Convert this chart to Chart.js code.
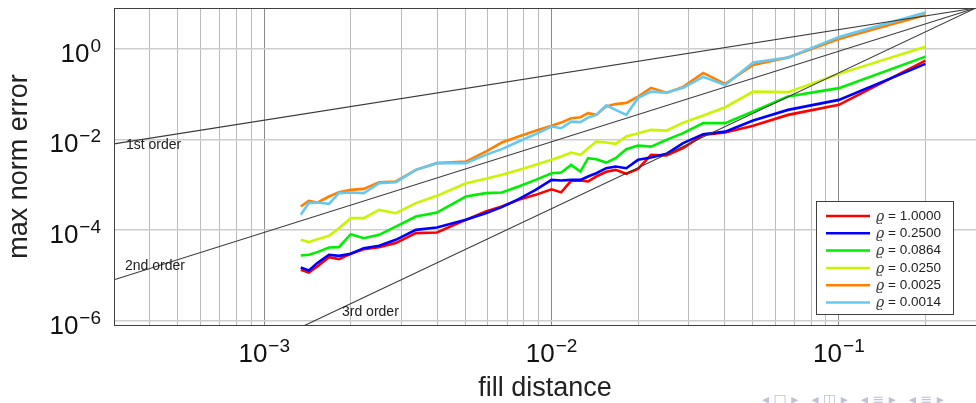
<!DOCTYPE html>
<html>
<head>
<meta charset="utf-8">
<script src="https://cdn.jsdelivr.net/npm/chart.js@4"></script>
<style>
  html, body { margin: 0; padding: 0; background: #fff; }
  #wrap { width: 976px; height: 403px; }
</style>
</head>
<body>
<div id="wrap"><canvas id="chart" width="976" height="403"></canvas></div>
<script>
// fill distance (shared by all runs)
const fillDistance = [1.34e-3, 1.43e-3, 1.53e-3, 1.68e-3, 1.82e-3, 2.0e-3, 2.22e-3, 2.51e-3, 2.87e-3, 3.37e-3,
  3.99e-3, 5.03e-3, 5.90e-3, 6.71e-3, 7.68e-3, 8.80e-3, 1.0e-2, 1.08e-2, 1.17e-2, 1.26e-2,
  1.34e-2, 1.43e-2, 1.55e-2, 1.67e-2, 1.82e-2, 2.0e-2, 2.22e-2, 2.51e-2, 2.87e-2, 3.37e-2,
  4.02e-2, 5.03e-2, 6.65e-2, 0.1, 0.2];

// max norm error per rho
const errRho10000 = [1.32e-5, 1.15e-5, 1.56e-5, 2.52e-5, 2.28e-5, 2.99e-5, 3.78e-5, 4.2e-5, 5.14e-5, 8.55e-5,
  8.81e-5, 1.68e-4, 2.56e-4, 3.30e-4, 4.64e-4, 5.98e-4, 7.91e-4, 6.79e-4, 1.22e-3, 1.25e-3,
  1.18e-3, 1.52e-3, 1.93e-3, 2.13e-3, 1.75e-3, 2.24e-3, 4.57e-3, 4.42e-3, 6.43e-3, 1.26e-2,
  1.42e-2, 2.0e-2, 3.49e-2, 5.81e-2, 0.552];
const errRho02500 = [1.49e-5, 1.28e-5, 1.86e-5, 2.84e-5, 2.69e-5, 2.99e-5, 3.98e-5, 4.48e-5, 6.08e-5, 1.01e-4,
  1.14e-4, 1.68e-4, 2.36e-4, 3.21e-4, 4.81e-4, 7.71e-4, 1.28e-3, 1.24e-3, 1.28e-3, 1.28e-3,
  1.52e-3, 1.80e-3, 2.32e-3, 2.52e-3, 2.32e-3, 3.55e-3, 3.98e-3, 4.81e-3, 8.28e-3, 1.31e-2,
  1.49e-2, 2.61e-2, 4.5e-2, 7.48e-2, 0.467];
const errRho00864 = [2.74e-5, 2.84e-5, 3.25e-5, 4.11e-5, 4.2e-5, 8.11e-5, 6.62e-5, 7.83e-5, 1.19e-4, 1.99e-4,
  2.43e-4, 5.5e-4, 6.53e-4, 6.73e-4, 9.12e-4, 1.28e-3, 1.80e-3, 1.86e-3, 2.75e-3, 1.95e-3,
  3.86e-3, 3.67e-3, 3.09e-3, 3.86e-3, 6.11e-3, 7.33e-3, 6.97e-3, 9.8e-3, 1.38e-2, 2.29e-2,
  2.29e-2, 4.13e-2, 8.85e-2, 0.136, 0.676];
const errRho00250 = [6.08e-5, 5.41e-5, 6.30e-5, 7.45e-5, 1.10e-4, 1.83e-4, 1.83e-4, 2.79e-4, 2.36e-4, 3.93e-4,
  5.69e-4, 1.08e-3, 1.35e-3, 1.66e-3, 2.13e-3, 2.75e-3, 3.55e-3, 4.2e-3, 5.14e-3, 4.57e-3,
  6.43e-3, 9.0e-3, 8.55e-3, 8.0e-3, 1.16e-2, 1.38e-2, 1.63e-2, 1.57e-2, 2.36e-2, 3.37e-2,
  5.16e-2, 0.114, 0.111, 0.281, 1.12];
const errRho00025 = [3.30e-4, 4.42e-4, 4.05e-4, 5.5e-4, 6.87e-4, 7.71e-4, 8.11e-4, 1.14e-3, 1.18e-3, 2.13e-3,
  3.0e-3, 3.25e-3, 5.41e-3, 8.55e-3, 1.16e-2, 1.55e-2, 2.0e-2, 2.36e-2, 2.95e-2, 3.10e-2,
  3.81e-2, 3.49e-2, 5.38e-2, 6.04e-2, 6.43e-2, 8.85e-2, 0.138, 0.107, 0.145, 0.295,
  0.169, 0.444, 0.643, 1.66, 5.63];
const errRho00014 = [2.17e-4, 3.93e-4, 4.05e-4, 3.78e-4, 6.53e-4, 6.73e-4, 6.53e-4, 1.08e-3, 1.14e-3, 2.13e-3,
  3.0e-3, 3.0e-3, 4.57e-3, 6.11e-3, 9.0e-3, 1.31e-2, 1.93e-2, 1.77e-2, 2.48e-2, 2.41e-2,
  3.04e-2, 3.49e-2, 5.66e-2, 4.5e-2, 3.49e-2, 8.28e-2, 0.114, 0.108, 0.138, 0.241,
  0.160, 0.499, 0.643, 1.84, 6.33];

const rhoValues = ['1.0000', '0.2500', '0.0864', '0.0250', '0.0025', '0.0014'];
const errSeries = [errRho10000, errRho02500, errRho00864, errRho00250, errRho00025, errRho00014];
const seriesColors = ['#ff0000', '#0000ff', '#00ee00', '#c8f500', '#ff8000', '#66c8f0'];

// reference slopes, end points
const orderNames = ['1st order', '2nd order', '3rd order'];
const orderX = [3e-4, 0.3];
const order1 = [8e-3, 8];
const order2 = [8e-6, 8];
const order3 = [8e-9, 8];

const xMajor = [1e-3, 1e-2, 1e-1];
const yMajor = [1e-6, 1e-4, 1e-2, 1];

const FONT = '"Liberation Sans", Arial, sans-serif';

function drawPower(ctx, v, x, y, align) {
    const e = Math.round(Math.log10(v));
    const base = '10';
    const sup = e < 0 ? '\u2212' + (-e) : String(e);
    ctx.font = '26px ' + FONT;
    const wb = ctx.measureText(base).width;
    ctx.font = '19px ' + FONT;
    const ws = ctx.measureText(sup).width;
    const total = wb + 1 + ws;
    const x0 = align === 'right' ? x - total : x - total / 2;
    ctx.textAlign = 'left';
    ctx.textBaseline = 'alphabetic';
    ctx.font = '26px ' + FONT;
    ctx.fillText(base, x0, y);
    ctx.font = '19px ' + FONT;
    ctx.fillText(sup, x0 + wb + 1, y - 10);
}

const decorPlugin = {
    id: 'decor',
    afterDraw(chart) {
        const ctx = chart.ctx;
        const area = chart.chartArea;
        const xs = chart.scales.x, ys = chart.scales.y;
        ctx.save();

        // frame
        ctx.strokeStyle = '#404040';
        ctx.lineWidth = 1;
        ctx.strokeRect(area.left + 0.5, area.top + 0.5, area.right - area.left, area.bottom - area.top);

        // tick labels
        ctx.fillStyle = '#111';
        xMajor.forEach(v => drawPower(ctx, v, xs.getPixelForValue(v), 362, 'center'));
        yMajor.forEach(v => drawPower(ctx, v, 101, ys.getPixelForValue(v) + 13, 'right'));

        // axis titles
        ctx.fillStyle = '#222';
        ctx.font = '27px ' + FONT;
        ctx.textAlign = 'center';
        ctx.textBaseline = 'alphabetic';
        ctx.fillText('fill distance', (area.left + area.right) / 2, 396);
        ctx.save();
        ctx.translate(27, (area.top + area.bottom) / 2);
        ctx.rotate(-Math.PI / 2);
        ctx.fillText('max norm error', 0, 0);
        ctx.restore();

        // order labels
        ctx.font = '14px ' + FONT;
        ctx.textAlign = 'left';
        ctx.fillStyle = '#222';
        ctx.fillText(orderNames[0], 126, 149);
        ctx.fillText(orderNames[1], 125, 270);
        ctx.fillText(orderNames[2], 342, 316);

        // legend box
        const lx = 816, ly = 201, lw = 137, lh = 113;
        ctx.fillStyle = '#fff';
        ctx.fillRect(lx, ly, lw, lh);
        ctx.strokeStyle = '#404040';
        ctx.strokeRect(lx + 0.5, ly + 0.5, lw, lh);
        rhoValues.forEach((r, i) => {
            const yy = 216 + i * 17.3;
            ctx.strokeStyle = seriesColors[i];
            ctx.lineWidth = 2.5;
            ctx.beginPath();
            ctx.moveTo(826, yy);
            ctx.lineTo(870, yy);
            ctx.stroke();
            ctx.fillStyle = '#333';
            ctx.textBaseline = 'middle';
            ctx.font = 'italic 14px "DejaVu Serif", serif';
            ctx.fillText('\u03f1', 876, yy + 1);
            ctx.font = '13.5px ' + FONT;
            ctx.fillStyle = '#222';
            ctx.fillText('= ' + r, 888, yy);
        });

        // beamer navigation symbols
        ctx.fillStyle = '#bcc2d8';
        ctx.font = '14px "DejaVu Sans", sans-serif';
        ctx.textBaseline = 'alphabetic';
        ctx.fillText('\u25c2 \u25a1 \u25b8   \u25c2 \u25eb \u25b8   \u25c2 \u2261 \u25b8   \u25c2 \u2261 \u25b8', 762, 404);

        ctx.restore();
    }
};

const datasets = errSeries.map((ys, i) => ({
    label: '\u03f1 = ' + rhoValues[i],
    data: fillDistance.map((x, j) => ({ x: x, y: ys[j] })),
    borderColor: seriesColors[i],
    borderWidth: 2.6,
    pointRadius: 0,
    tension: 0,
    fill: false,
    order: -i
}));

[order1, order2, order3].forEach((o, i) => {
    datasets.push({
        label: orderNames[i],
        data: orderX.map((x, j) => ({ x: x, y: o[j] })),
        borderColor: '#3a3a3a',
        borderWidth: 1.1,
        pointRadius: 0,
        fill: false,
        order: -10
    });
});

new Chart(document.getElementById('chart'), {
    type: 'line',
    data: { datasets: datasets },
    options: {
        responsive: false,
        animation: false,
        devicePixelRatio: 1,
        layout: { padding: { top: 8, right: 0, left: 0, bottom: 0 } },
        plugins: { legend: { display: false }, tooltip: { enabled: false } },
        scales: {
            x: {
                type: 'logarithmic',
                min: 3e-4,
                max: 0.3,
                afterBuildTicks: scale => {
                    const t = [];
                    for (let n = -4; n <= -1; n++) {
                        for (let k = 1; k <= 9; k++) {
                            const v = k * Math.pow(10, n);
                            if (v >= 3e-4 && v <= 0.3) t.push({ value: v, major: k === 1 });
                        }
                    }
                    scale.ticks = t;
                },
                afterFit: scale => { scale.height = 78; },
                ticks: { display: false },
                grid: {
                    drawTicks: false,
                    color: c => (c.tick && c.tick.major) ? '#8c8c8c' : '#bcbcbc',
                    lineWidth: 1
                },
                border: { color: '#404040' }
            },
            y: {
                type: 'logarithmic',
                min: 8e-7,
                max: 8,
                afterBuildTicks: scale => { scale.ticks = yMajor.map(v => ({ value: v })); },
                afterFit: scale => { scale.width = 114; },
                ticks: { display: false },
                grid: { drawTicks: false, color: '#cdcdcd', lineWidth: 1.5 },
                border: { color: '#404040' }
            }
        }
    },
    plugins: [decorPlugin]
});
</script>
</body>
</html>
